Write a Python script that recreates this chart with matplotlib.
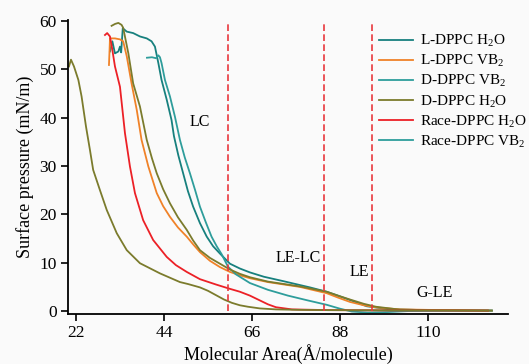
import matplotlib
matplotlib.use("Agg")
import matplotlib.pyplot as plt

plt.rcParams['font.family'] = ['Liberation Serif', 'DejaVu Serif']
plt.rcParams['mathtext.fontset'] = 'custom'
plt.rcParams['mathtext.rm'] = 'Liberation Serif'
plt.rcParams['mathtext.default'] = 'regular'

# ---- data ----
l_h2o_x = [30.5, 31.1, 31.75, 32.6, 33.0, 33.3, 33.7, 34.7, 36.3, 38, 39.7, 40.9, 41.75, 42.6, 43.4, 44.7, 45.9,
           46.5, 47.6, 48.8, 50.0, 51.3, 53.0, 54.7, 56.3, 58, 60.5, 63, 65.5, 69, 73.8, 80.5, 84.7, 87.5, 90.5,
           94.7, 100.5, 110, 126]
l_h2o_y = [53.7, 55.8, 53.3, 53.7, 54.7, 53.5, 58.5, 57.8, 57.5, 56.8, 56.4, 55.8, 54.7, 51.3, 47.8, 43.7, 39.5,
           36.2, 32.2, 28.5, 24.8, 21.6, 18.2, 15.4, 13.4, 11.9, 9.8, 8.8, 8.0, 7.1, 6.2, 4.9, 4.0, 3.2, 2.3,
           1.0, 0.35, 0.2, 0.1]

l_vb2_x = [30.25, 30.4, 30.5, 31.75, 33, 33.8, 34.7, 35.9, 37.2, 38.4, 40.1, 42.2, 43.8, 45.5, 47.5, 49.7, 51.3,
           53, 55.5, 58, 60.5, 63, 65.5, 70, 78, 84.7, 87.5, 90.5, 94, 97.2, 103, 110, 126]
l_vb2_y = [50.9, 54.0, 56.4, 56.4, 56.2, 55.8, 52.7, 47.1, 41.6, 35.4, 29.9, 24.4, 21.7, 19.5, 17.3, 15.4, 13.8,
           12.2, 10.4, 9.1, 8.1, 7.4, 6.8, 6.0, 5.0, 3.7, 2.8, 1.9, 1.2, 0.75, 0.35, 0.25, 0.1]

d_vb2_x = [39.75, 41, 42, 42.6, 43.0, 43.4, 44.25, 45.5, 46.75, 48, 49.2, 50.5, 51.8, 53, 54.5, 55.9, 57.2, 58.4,
           60, 62, 65.5, 70, 75, 80, 84.7, 88, 91, 95, 100, 105, 126]
d_vb2_y = [52.4, 52.5, 52.3, 52.9, 52.5, 51.3, 47.8, 44.4, 40.2, 35.4, 31.8, 28.5, 25.0, 21.6, 18.3, 15.4, 13.4,
           11.8, 9.2, 7.6, 5.8, 4.4, 3.2, 2.2, 1.3, 0.5, -0.1, -0.3, -0.2, 0.0, 0.1]

d_h2o_x = [30.9, 31.8, 32.6, 33.4, 33.8, 35.1, 36.3, 38, 39.7, 41.0, 42.2, 43.8, 45.5, 47.5, 49.7, 51.3, 53, 55.5,
           58, 60.5, 63, 65.5, 70, 78, 84.7, 87.5, 90.5, 94, 97, 103, 110, 126]
d_h2o_y = [59.0, 59.4, 59.6, 59.2, 58.6, 53.3, 47.1, 42.3, 35.4, 31.6, 28.5, 25.2, 22.3, 19.4, 16.8, 14.6, 12.6, 11.0,
           9.8, 8.6, 7.7, 7.0, 6.1, 5.1, 4.0, 3.2, 2.4, 1.5, 0.9, 0.3, 0.2, 0.1]

r_h2o_x = [29.25, 29.8, 30.5, 31.0, 31.75, 33, 34.25, 35.5, 36.75, 38.8, 41.3, 44.7, 47.0, 49.7, 53, 57, 60.5,
           63, 65.5, 68, 70, 72, 76, 85, 100, 125]
r_h2o_y = [57.1, 57.5, 56.8, 54.5, 50.6, 46.4, 36.8, 29.9, 24.4, 18.8, 14.7, 11.2, 9.5, 8.1, 6.6, 5.5, 4.6,
           4.0, 3.2, 2.2, 1.4, 0.8, 0.35, 0.2, 0.15, 0.1]

r_vb2_x = [20.25, 20.75, 21.5, 22.6, 23.4, 24.5, 25.5, 26.3, 28, 29.7, 32.2, 34.7, 38, 43, 48, 50, 53, 55, 57, 59,
           61, 63, 65, 68, 72, 78, 85, 100, 125]
r_vb2_y = [50.6, 52.0, 50.6, 47.8, 44.4, 38.2, 33.3, 29.2, 25, 20.9, 16.1, 12.6, 9.9, 7.8, 6.0, 5.6, 4.9, 4.2,
           3.3, 2.4, 1.7, 1.2, 0.9, 0.55, 0.35, 0.25, 0.2, 0.15, 0.1]

labels = ['L-DPPC H$_2$O', 'L-DPPC VB$_2$', 'D-DPPC VB$_2$', 'D-DPPC H$_2$O', 'Race-DPPC H$_2$O', 'Race-DPPC VB$_2$']
colors = ['#17807e', '#f08228', '#2e9d9b', '#7b7b2c', '#ec2026', '#7b7b2c']
legend_colors = ['#17807e', '#f08228', '#2e9d9b', '#7b7b2c', '#ec2026', '#2e9d9b']

phase_lines = [60, 84, 96]
phase_labels = ['LC', 'LE-LC', 'LE', 'G-LE']
phase_label_x = [53, 77.5, 92.75, 111.75]
phase_label_y = [39.1, 11.0, 8.1, 3.7]

xticks = [22, 44, 66, 88, 110]
yticks = [0, 10, 20, 30, 40, 50, 60]

bg = '#fafafa'
fig = plt.figure(figsize=(5.29, 3.64), dpi=100, facecolor=bg)
ax = fig.add_axes([0.1285, 0.1374, 0.8315, 0.8076], facecolor=bg)

series = [(l_h2o_x, l_h2o_y), (l_vb2_x, l_vb2_y), (d_vb2_x, d_vb2_y), (d_h2o_x, d_h2o_y),
          (r_h2o_x, r_h2o_y), (r_vb2_x, r_vb2_y)]
for (x, y), lab, c in zip(series, labels, colors):
    ax.plot(x, y, color=c, lw=1.3, label=lab, solid_joinstyle='round')

for xv in phase_lines:
    ax.vlines(xv, 0, 60, colors='#e8383d', linestyles=(0, (4, 2)), lw=1.2)

for t, x, y in zip(phase_labels, phase_label_x, phase_label_y):
    ax.text(x, y, t, fontsize=11.5, ha='center', va='center')

ax.set_xlim(20, 130)
ax.set_ylim(-0.6, 60.2)
ax.set_xticks(xticks)
ax.set_yticks(yticks)
ax.tick_params(direction='out', length=5, width=1.2, labelsize=12.5, pad=3)
for s in ['top', 'right']:
    ax.spines[s].set_visible(False)
for s in ['left', 'bottom']:
    ax.spines[s].set_linewidth(1.3)

ax.set_xlabel('Molecular Area(Å/molecule)', fontsize=13, labelpad=2)
ax.set_ylabel('Surface pressure (mN/m)', fontsize=13, labelpad=4)

leg = ax.legend(loc='upper left', bbox_to_anchor=(0.707, 0.955), frameon=False, fontsize=11,
                handlelength=2.2, handletextpad=0.5, labelspacing=0.26, borderpad=0, borderaxespad=0)
for h, c in zip(leg.legend_handles, legend_colors):
    h.set_color(c)

fig.savefig('out.png', dpi=100, facecolor=bg)
